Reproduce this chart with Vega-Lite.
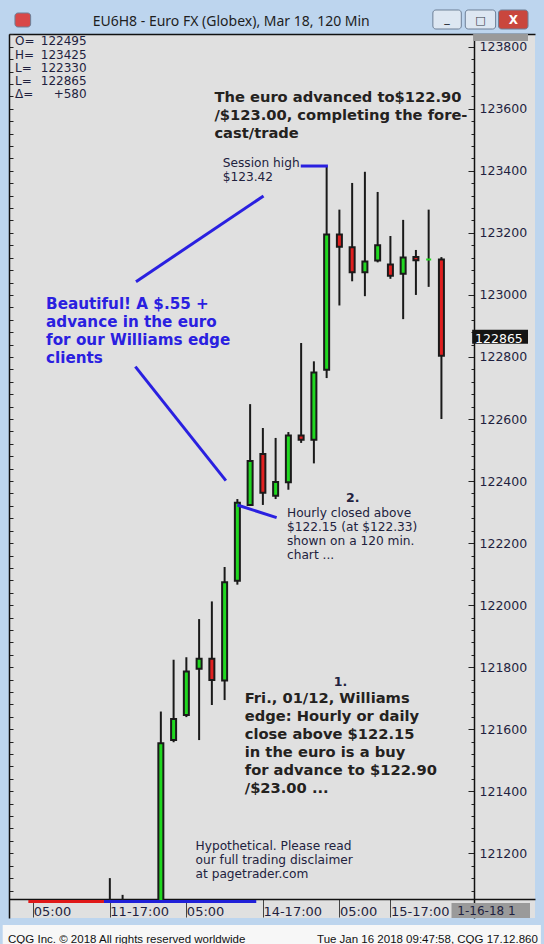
{
  "$schema": "https://vega.github.io/schema/vega-lite/v6.json",
  "width": 526,
  "height": 884,
  "autosize": "none",
  "padding": {"left": 9, "top": 34, "right": 9, "bottom": 26},
  "background": "#bdd5ee",
  "config": {"view": {"fill": "#e0e0e0", "stroke": null}},
  "datasets": {
    "candles": [
      {"k": 0, "o": null, "h": 121120, "l": 121046, "c": null},
      {"k": 1, "o": null, "h": 121066, "l": 121046, "c": null},
      {"k": 4, "o": 121046, "h": 121657, "l": 121046, "c": 121555},
      {"k": 5, "o": 121565, "h": 121824, "l": 121558, "c": 121633},
      {"k": 6, "o": 121646, "h": 121832, "l": 121639, "c": 121786},
      {"k": 7, "o": 121795, "h": 121955, "l": 121565, "c": 121827},
      {"k": 8, "o": 121827, "h": 122012, "l": 121678, "c": 121759},
      {"k": 9, "o": 121757, "h": 122123, "l": 121694, "c": 122074},
      {"k": 10, "o": 122079, "h": 122342, "l": 122066, "c": 122330},
      {"k": 11, "o": 122323, "h": 122648, "l": 122320, "c": 122465},
      {"k": 12, "o": 122487, "h": 122571, "l": 122323, "c": 122362},
      {"k": 13, "o": 122353, "h": 122539, "l": 122342, "c": 122397},
      {"k": 14, "o": 122396, "h": 122558, "l": 122372, "c": 122547},
      {"k": 15, "o": 122547, "h": 122845, "l": 122523, "c": 122533},
      {"k": 16, "o": 122533, "h": 122786, "l": 122457, "c": 122750},
      {"k": 17, "o": 122759, "h": 123415, "l": 122732, "c": 123195},
      {"k": 18, "o": 123195, "h": 123275, "l": 122966, "c": 123155},
      {"k": 19, "o": 123154, "h": 123361, "l": 123044, "c": 123073},
      {"k": 20, "o": 123073, "h": 123397, "l": 122996, "c": 123108},
      {"k": 21, "o": 123111, "h": 123332, "l": 123105, "c": 123160},
      {"k": 22, "o": 123098, "h": 123190, "l": 123052, "c": 123062},
      {"k": 23, "o": 123068, "h": 123242, "l": 122922, "c": 123121},
      {"k": 24, "o": 123122, "h": 123145, "l": 123000, "c": 123112},
      {"k": 25, "o": 123114, "h": 123275, "l": 123026, "c": 123114},
      {"k": 26, "o": 123114, "h": 123122, "l": 122600, "c": 122804}
    ],
    "lines": [
      {"x": 14.97, "y": 123415.6, "x2": 17.1, "y2": 123415.6},
      {"x": 2.05, "y": 123042.7, "x2": 12.05, "y2": 123319},
      {"x": 2.0, "y": 122768.7, "x2": 9.1, "y2": 122401.2},
      {"x": 10.0, "y": 122322.8, "x2": 13.08, "y2": 122281.9}
    ],
    "session": [
      {"seg": "red", "k": -6.39, "k2": -0.46, "p": 121044.6},
      {"seg": "blue", "k": -0.46, "k2": 11.48, "p": 121044.6}
    ],
    "boxes": [
      {"grp": "status", "k": -8.4, "k2": 33.8, "p": 120968.9, "p2": 120880},
      {"grp": "date", "k": 26.79, "k2": 32.946, "p": 120991.4, "p2": 121039.8},
      {"grp": "price", "k": 28.41, "k2": 32.79, "p": 122842.4, "p2": 122887.6},
      {"grp": "date", "k": 28.49, "k2": 32.79, "p": 123841.2, "p2": 123818.6}
    ],
    "buttons": [
      {"grp": "btn", "k": 25.33, "k2": 27.56, "p": 123918.6, "p2": 123857.3},
      {"grp": "btn", "k": 27.87, "k2": 30.25, "p": 123918.6, "p2": 123857.3},
      {"grp": "close", "k": 30.48, "k2": 32.79, "p": 123918.6, "p2": 123857.3},
      {"grp": "icon", "k": -7.44, "k2": -6.21, "p": 123908.9, "p2": 123863.8}
    ],
    "notes": [
      {"grp": "big", "k": 8.2, "p": 123622.6, "text": ["The euro advanced to$122.90", "/$123.00, completing the fore-", "cast/trade"]},
      {"grp": "big", "k": 10.58, "p": 121685, "text": ["Fri., 01/12, Williams", "edge: Hourly or daily", "close above $122.15", "in the euro is a buy", "for advance to $122.90", "/$23.00 ..."]},
      {"grp": "blue", "k": -5.0, "p": 122956, "text": ["Beautiful!  A $.55 +", "advance in the euro", "for our Williams edge", "clients"]},
      {"grp": "small", "k": 8.85, "p": 123414, "text": ["Session high", "$123.42"]},
      {"grp": "small", "k": 13.89, "p": 122284.5, "text": ["Hourly closed above", "$122.15 (at $122.33)", "shown on a 120 min.", "chart ..."]},
      {"grp": "small", "k": 6.72, "p": 121211, "text": ["Hypothetical. Please read", "our full trading disclaimer", "at pagetrader.com"]},
      {"grp": "num", "k": 19.05, "p": 122332, "text": "2."},
      {"grp": "num", "k": 18.08, "p": 121740, "text": "1."},
      {"grp": "ohlcl", "k": -7.44, "p": 123804.4, "text": ["O=", "H=", "L=", "L=", "Δ="]},
      {"grp": "ohlcr", "k": -1.82, "p": 123804.4, "text": ["122495", "123425", "122330", "122865", "+580"]},
      {"grp": "date", "k": 27.25, "p": 121001.1, "text": "1-16-18  1"},
      {"grp": "price", "k": 28.64, "p": 122845.7, "text": "122865"},
      {"grp": "btnx", "k": 31.635, "p": 123872, "text": "X"},
      {"grp": "btng", "k": 26.445, "p": 123880, "text": "_"},
      {"grp": "btng", "k": 29.06, "p": 123873, "text": "□"},
      {"grp": "wintitle", "k": 9.52, "p": 123867, "text": "EU6H8 - Euro FX (Globex), Mar 18, 120 Min"},
      {"grp": "statusl", "k": -7.98, "p": 120910.8, "text": "CQG Inc. © 2018 All rights reserved worldwide"},
      {"grp": "statusr", "k": 33.56, "p": 120910.8, "text": "Tue Jan 16 2018 09:47:58, CQG 17.12.860"}
    ]
  },
  "resolve": {"axis": {"x": "independent", "y": "independent"}},
  "layer": [
    {
      "data": {"name": "boxes"},
      "mark": {"type": "rect"},
      "encoding": {
        "x": {"field": "k", "type": "quantitative", "scale": {"domain": [-7.515, 32.946], "nice": false, "zero": false}, "axis": null},
        "x2": {"field": "k2"},
        "y": {"field": "p", "type": "quantitative", "scale": {"domain": [120991.4, 123841.2], "nice": false, "zero": false}, "axis": null},
        "y2": {"field": "p2"},
        "fill": {"field": "grp", "type": "nominal", "scale": {"domain": ["status", "date", "price", "btn", "close", "icon"], "range": ["#f7f7f7", "#9a9a9a", "#141414", "#dde7f2", "#c9463d", "#d94848"]}, "legend": null}
      }
    },
    {
      "data": {"name": "buttons"},
      "mark": {"type": "rect", "stroke": "#6d7f96", "strokeWidth": 1, "cornerRadius": 3},
      "encoding": {
        "x": {"field": "k", "type": "quantitative", "scale": {"domain": [-7.515, 32.946], "nice": false, "zero": false}, "axis": null},
        "x2": {"field": "k2"},
        "y": {"field": "p", "type": "quantitative", "scale": {"domain": [120991.4, 123841.2], "nice": false, "zero": false}, "axis": null},
        "y2": {"field": "p2"},
        "fill": {"field": "grp", "type": "nominal", "scale": {"domain": ["status", "date", "price", "btn", "close", "icon"], "range": ["#f7f7f7", "#9a9a9a", "#141414", "#dde7f2", "#c9463d", "#d94848"]}, "legend": null}
      }
    },
    {
      "data": {"name": "candles"},
      "mark": {"type": "rule", "stroke": "#1a1a1a", "strokeWidth": 2},
      "encoding": {
        "x": {"field": "k", "type": "quantitative", "scale": {"domain": [-7.515, 32.946], "nice": false, "zero": false},
          "axis": {"orient": "bottom", "offset": -19, "values": [-6, 0, 6, 12, 18, 22],
            "labelExpr": "datum.value == -6 ? '05:00' : datum.value == 0 ? '11-17:00' : datum.value == 6 ? '05:00' : datum.value == 12 ? '14-17:00' : datum.value == 18 ? '05:00' : '15-17:00'",
            "tickSize": 18, "tickColor": "#444444", "tickWidth": 1, "domainColor": "#111111", "domainWidth": 1.5,
            "labelAlign": "left", "labelDx": 3, "labelPadding": -12, "labelBaseline": "top", "labelFont": "DejaVu Sans", "labelFontSize": 13, "labelColor": "#1f1f3f",
            "labelFlush": false, "labelOverlap": false, "grid": false, "title": null}},
        "y": {"field": "l", "type": "quantitative", "scale": {"domain": [120991.4, 123841.2], "nice": false, "zero": false},
          "axis": {"orient": "left", "values": [121080,121120,121160,121200,121240,121280,121320,121360,121400,121440,121480,121520,121560,121600,121640,121680,121720,121760,121800,121840,121880,121920,121960,122000,122040,122080,122120,122160,122200,122240,122280,122320,122360,122400,122440,122480,122520,122560,122600,122640,122680,122720,122760,122800,122840,122880,122920,122960,123000,123040,123080,123120,123160,123200,123240,123280,123320,123360,123400,123440,123480,123520,123560,123600,123640,123680,123720,123760,123800,123840],
            "tickSize": -4, "tickColor": "#222222", "labels": false, "domainColor": "#111111", "domainWidth": 1.5, "grid": false, "title": null}},
        "y2": {"field": "h"}
      }
    },
    {
      "data": {"name": "candles"},
      "transform": [{"filter": "datum.o != null"}],
      "mark": {"type": "bar", "size": 5, "strokeWidth": 2},
      "encoding": {
        "x": {"field": "k", "type": "quantitative", "scale": {"domain": [-7.515, 32.946], "nice": false, "zero": false},
          "axis": {"orient": "top", "ticks": false, "labels": false, "domainColor": "#111111", "domainWidth": 1.5, "grid": false, "title": null}},
        "y": {"field": "o", "type": "quantitative", "scale": {"domain": [120991.4, 123841.2], "nice": false, "zero": false},
          "axis": {"orient": "right", "offset": -61, "values": [121080,121120,121160,121200,121240,121280,121320,121360,121400,121440,121480,121520,121560,121600,121640,121680,121720,121760,121800,121840,121880,121920,121960,122000,122040,122080,122120,122160,122200,122240,122280,122320,122360,122400,122440,122480,122520,122560,122600,122640,122680,122720,122760,122800,122840,122880,122920,122960,123000,123040,123080,123120,123160,123200,123240,123280,123320,123360,123400,123440,123480,123520,123560,123600,123640,123680,123720,123760,123800,123840],
            "format": "d", "labelExpr": "datum.value % 200 == 0 ? datum.label : ''",
            "tickSize": {"condition": {"test": "datum.value % 200 == 0", "value": -6}, "value": -3},
            "tickColor": "#222222", "labelPadding": 11, "labelFont": "DejaVu Sans", "labelFontSize": 12.5, "labelColor": "#1f1f3f",
            "domainColor": "#111111", "domainWidth": 1.5, "grid": false, "title": null, "labelOverlap": false, "labelFlush": false}},
        "y2": {"field": "c"},
        "fill": {"condition": {"test": "datum.c < datum.o", "value": "#e02020"}, "value": "#20d820"},
        "stroke": {"condition": {"test": "datum.c == datum.o", "value": "#20d820"}, "value": "#1a1a1a"}
      }
    },
    {
      "data": {"name": "session"},
      "mark": {"type": "rule", "strokeWidth": 3},
      "encoding": {
        "x": {"field": "k", "type": "quantitative", "scale": {"domain": [-7.515, 32.946], "nice": false, "zero": false}, "axis": null},
        "x2": {"field": "k2"},
        "y": {"field": "p", "type": "quantitative", "scale": {"domain": [120991.4, 123841.2], "nice": false, "zero": false}, "axis": null},
        "color": {"field": "seg", "type": "nominal", "scale": {"domain": ["red", "blue"], "range": ["#e01818", "#2020d8"]}, "legend": null}
      }
    },
    {
      "data": {"name": "lines"},
      "mark": {"type": "rule", "stroke": "#2a20e0", "strokeWidth": 3},
      "encoding": {
        "x": {"field": "x", "type": "quantitative", "scale": {"domain": [-7.515, 32.946], "nice": false, "zero": false}, "axis": null},
        "x2": {"field": "x2"},
        "y": {"field": "y", "type": "quantitative", "scale": {"domain": [120991.4, 123841.2], "nice": false, "zero": false}, "axis": null},
        "y2": {"field": "y2"}
      }
    },
    {
      "data": {"name": "notes"},
      "transform": [{"filter": "datum.grp == 'big'"}],
      "mark": {"type": "text", "align": "left", "baseline": "alphabetic", "font": "DejaVu Sans", "fontWeight": "bold", "fontSize": 14.7, "lineHeight": 18.1, "color": "#24221e"},
      "encoding": {
        "x": {"field": "k", "type": "quantitative", "scale": {"domain": [-7.515, 32.946], "nice": false, "zero": false}, "axis": null},
        "y": {"field": "p", "type": "quantitative", "scale": {"domain": [120991.4, 123841.2], "nice": false, "zero": false}, "axis": null},
        "text": {"field": "text"}
      }
    },
    {
      "data": {"name": "notes"},
      "transform": [{"filter": "datum.grp == 'blue'"}],
      "mark": {"type": "text", "align": "left", "baseline": "alphabetic", "font": "DejaVu Sans", "fontWeight": "bold", "fontSize": 15.2, "lineHeight": 18, "color": "#2a20e0"},
      "encoding": {
        "x": {"field": "k", "type": "quantitative", "scale": {"domain": [-7.515, 32.946], "nice": false, "zero": false}, "axis": null},
        "y": {"field": "p", "type": "quantitative", "scale": {"domain": [120991.4, 123841.2], "nice": false, "zero": false}, "axis": null},
        "text": {"field": "text"}
      }
    },
    {
      "data": {"name": "notes"},
      "transform": [{"filter": "datum.grp == 'small'"}],
      "mark": {"type": "text", "align": "left", "baseline": "alphabetic", "font": "DejaVu Sans", "fontSize": 12.2, "lineHeight": 14.2, "color": "#22223e"},
      "encoding": {
        "x": {"field": "k", "type": "quantitative", "scale": {"domain": [-7.515, 32.946], "nice": false, "zero": false}, "axis": null},
        "y": {"field": "p", "type": "quantitative", "scale": {"domain": [120991.4, 123841.2], "nice": false, "zero": false}, "axis": null},
        "text": {"field": "text"}
      }
    },
    {
      "data": {"name": "notes"},
      "transform": [{"filter": "datum.grp == 'num'"}],
      "mark": {"type": "text", "align": "center", "baseline": "alphabetic", "font": "DejaVu Sans", "fontWeight": "bold", "fontSize": 12.5, "color": "#22223e"},
      "encoding": {
        "x": {"field": "k", "type": "quantitative", "scale": {"domain": [-7.515, 32.946], "nice": false, "zero": false}, "axis": null},
        "y": {"field": "p", "type": "quantitative", "scale": {"domain": [120991.4, 123841.2], "nice": false, "zero": false}, "axis": null},
        "text": {"field": "text"}
      }
    },
    {
      "data": {"name": "notes"},
      "transform": [{"filter": "datum.grp == 'btnx'"}],
      "mark": {"type": "text", "align": "center", "baseline": "alphabetic", "font": "DejaVu Sans", "fontWeight": "bold", "fontSize": 12, "color": "#ffffff"},
      "encoding": {
        "x": {"field": "k", "type": "quantitative", "scale": {"domain": [-7.515, 32.946], "nice": false, "zero": false}, "axis": null},
        "y": {"field": "p", "type": "quantitative", "scale": {"domain": [120991.4, 123841.2], "nice": false, "zero": false}, "axis": null},
        "text": {"field": "text"}
      }
    },
    {
      "data": {"name": "notes"},
      "transform": [{"filter": "datum.grp == 'btng'"}],
      "mark": {"type": "text", "align": "center", "baseline": "alphabetic", "font": "DejaVu Sans", "fontWeight": "bold", "fontSize": 11, "color": "#333a44"},
      "encoding": {
        "x": {"field": "k", "type": "quantitative", "scale": {"domain": [-7.515, 32.946], "nice": false, "zero": false}, "axis": null},
        "y": {"field": "p", "type": "quantitative", "scale": {"domain": [120991.4, 123841.2], "nice": false, "zero": false}, "axis": null},
        "text": {"field": "text"}
      }
    },
    {
      "data": {"name": "notes"},
      "transform": [{"filter": "datum.grp == 'wintitle'"}],
      "mark": {"type": "text", "align": "center", "baseline": "alphabetic", "font": "Noto Sans", "fontSize": 14, "color": "#1e1e1e"},
      "encoding": {
        "x": {"field": "k", "type": "quantitative", "scale": {"domain": [-7.515, 32.946], "nice": false, "zero": false}, "axis": null},
        "y": {"field": "p", "type": "quantitative", "scale": {"domain": [120991.4, 123841.2], "nice": false, "zero": false}, "axis": null},
        "text": {"field": "text"}
      }
    },
    {
      "data": {"name": "notes"},
      "transform": [{"filter": "datum.grp == 'ohlcl' || datum.grp == 'date'"}],
      "mark": {"type": "text", "align": "left", "baseline": "alphabetic", "font": "DejaVu Sans", "fontSize": 12, "lineHeight": 13.2, "color": "#1f1f3f"},
      "encoding": {
        "x": {"field": "k", "type": "quantitative", "scale": {"domain": [-7.515, 32.946], "nice": false, "zero": false}, "axis": null},
        "y": {"field": "p", "type": "quantitative", "scale": {"domain": [120991.4, 123841.2], "nice": false, "zero": false}, "axis": null},
        "text": {"field": "text"}
      }
    },
    {
      "data": {"name": "notes"},
      "transform": [{"filter": "datum.grp == 'ohlcr'"}],
      "mark": {"type": "text", "align": "right", "baseline": "alphabetic", "font": "DejaVu Sans", "fontSize": 12, "lineHeight": 13.2, "color": "#1f1f3f"},
      "encoding": {
        "x": {"field": "k", "type": "quantitative", "scale": {"domain": [-7.515, 32.946], "nice": false, "zero": false}, "axis": null},
        "y": {"field": "p", "type": "quantitative", "scale": {"domain": [120991.4, 123841.2], "nice": false, "zero": false}, "axis": null},
        "text": {"field": "text"}
      }
    },
    {
      "data": {"name": "notes"},
      "transform": [{"filter": "datum.grp == 'price'"}],
      "mark": {"type": "text", "align": "left", "baseline": "alphabetic", "font": "DejaVu Sans", "fontSize": 12.5, "color": "#ffffff"},
      "encoding": {
        "x": {"field": "k", "type": "quantitative", "scale": {"domain": [-7.515, 32.946], "nice": false, "zero": false}, "axis": null},
        "y": {"field": "p", "type": "quantitative", "scale": {"domain": [120991.4, 123841.2], "nice": false, "zero": false}, "axis": null},
        "text": {"field": "text"}
      }
    },
    {
      "data": {"name": "notes"},
      "transform": [{"filter": "datum.grp == 'statusl'"}],
      "mark": {"type": "text", "align": "left", "baseline": "alphabetic", "font": "Liberation Sans", "fontSize": 11.5, "color": "#111111"},
      "encoding": {
        "x": {"field": "k", "type": "quantitative", "scale": {"domain": [-7.515, 32.946], "nice": false, "zero": false}, "axis": null},
        "y": {"field": "p", "type": "quantitative", "scale": {"domain": [120991.4, 123841.2], "nice": false, "zero": false}, "axis": null},
        "text": {"field": "text"}
      }
    },
    {
      "data": {"name": "notes"},
      "transform": [{"filter": "datum.grp == 'statusr'"}],
      "mark": {"type": "text", "align": "right", "baseline": "alphabetic", "font": "Liberation Sans", "fontSize": 11.5, "color": "#111111"},
      "encoding": {
        "x": {"field": "k", "type": "quantitative", "scale": {"domain": [-7.515, 32.946], "nice": false, "zero": false}, "axis": null},
        "y": {"field": "p", "type": "quantitative", "scale": {"domain": [120991.4, 123841.2], "nice": false, "zero": false}, "axis": null},
        "text": {"field": "text"}
      }
    }
  ]
}
